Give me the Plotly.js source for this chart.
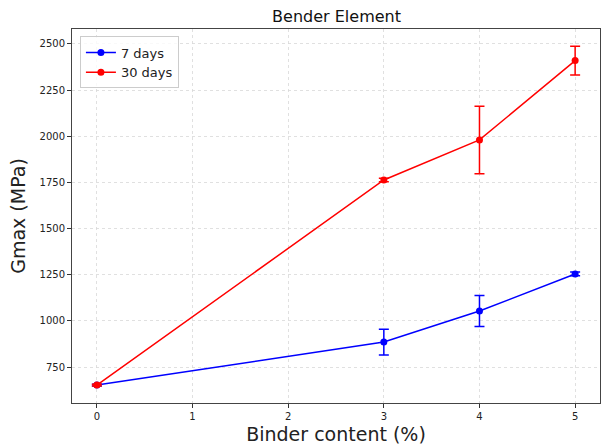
<!DOCTYPE html>
<html>
<head>
<meta charset="utf-8">
<script src="https://cdn.plot.ly/plotly-3.0.1.min.js"></script>
<style>html,body{margin:0;padding:0;background:#fff;}#chart{width:601px;height:445px;}</style>
</head>
<body>
<div id="chart"></div>
<script>
const binder = [0, 3, 4, 5];
const gmax7 = [652, 885, 1053, 1254];
const err7 = [5, 70, 84, 10];
const gmax30 = [652, 1763, 1980, 2410];
const err30 = [5, 10, 183, 78];
const xTicks = [0, 1, 2, 3, 4, 5];
const yTicks = [750, 1000, 1250, 1500, 1750, 2000, 2250, 2500];

const traces = [
  {x: binder, y: gmax7, name: '7 days', mode: 'lines+markers', type: 'scatter',
   line: {color: 'blue', width: 1.5}, marker: {color: 'blue', size: 7},
   error_y: {type: 'data', array: err7, visible: true, color: 'blue', thickness: 1.5, width: 5}},
  {x: binder, y: gmax30, name: '30 days', mode: 'lines+markers', type: 'scatter',
   line: {color: 'red', width: 1.5}, marker: {color: 'red', size: 7},
   error_y: {type: 'data', array: err30, visible: true, color: 'red', thickness: 1.5, width: 5}}
];

const layout = {
  width: 601, height: 445,
  margin: {l: 72, r: 1, t: 29, b: 42},
  paper_bgcolor: '#fff', plot_bgcolor: '#fff',
  font: {family: 'DejaVu Sans, sans-serif', color: '#222'},
  title: {text: 'Bender Element', font: {size: 16, color: '#111'}, x: 0.56, xanchor: 'center', y: 0.975, yanchor: 'top'},
  xaxis: {
    title: {text: 'Binder content (%)', font: {size: 19}, standoff: 6},
    range: [-0.26, 5.26], tickvals: xTicks, ticktext: xTicks.map(String),
    tickfont: {size: 10}, ticks: 'outside', ticklen: 4, tickcolor: '#333',
    showgrid: true, gridcolor: '#d8d8d8', griddash: '3px,3px', gridwidth: 0.8,
    showline: true, linecolor: '#444', linewidth: 1, mirror: true, zeroline: false
  },
  yaxis: {
    title: {text: 'Gmax (MPa)', font: {size: 19}, standoff: 8},
    range: [555, 2581], tickvals: yTicks, ticktext: yTicks.map(String),
    tickfont: {size: 10}, ticks: 'outside', ticklen: 4, tickcolor: '#333',
    showgrid: true, gridcolor: '#d8d8d8', griddash: '3px,3px', gridwidth: 0.8,
    showline: true, linecolor: '#444', linewidth: 1, mirror: true, zeroline: false
  },
  legend: {x: 0.015, y: 0.98, xanchor: 'left', yanchor: 'top',
    bgcolor: 'rgba(255,255,255,0.8)', bordercolor: '#ccc', borderwidth: 1,
    font: {size: 13}, itemwidth: 30},
  showlegend: true
};

Plotly.newPlot('chart', traces, layout, {displayModeBar: false, staticPlot: true});
</script>
</body>
</html>
